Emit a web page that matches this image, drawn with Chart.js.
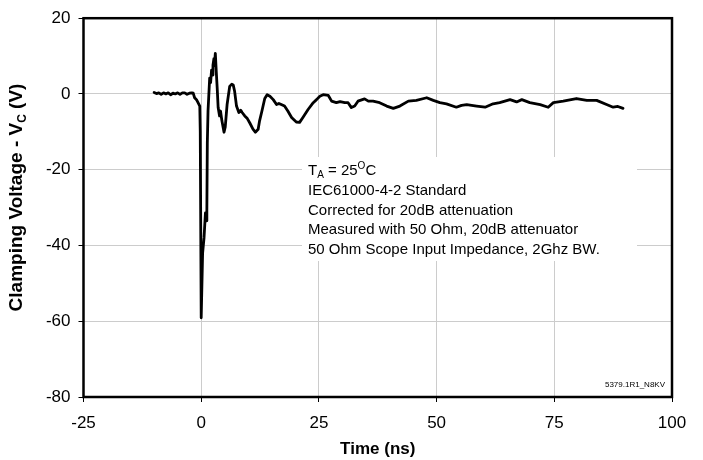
<!DOCTYPE html>
<html>
<head>
<meta charset="utf-8">
<script src="https://cdn.jsdelivr.net/npm/chart.js@4.4.0/dist/chart.umd.min.js"></script>
<style>
  html, body { margin: 0; padding: 0; background: #ffffff; }
  #wrap { width: 703px; height: 460px; position: relative; }
</style>
</head>
<body>
<div id="wrap"><canvas id="c" width="703" height="460"></canvas></div>
<script>
// ---- Data ----
const timeNs = [
  -10.0, -9.5, -9.0, -8.5, -8.0, -7.5, -7.0, -6.5, -6.0, -5.5, -5.0, -4.5, -4.0, -3.5, -3.0, -2.5, -2.0, -1.7, -1.4, -1.0,
  -0.67, -0.3, -0.2, 0.0, 0.3, 0.6, 0.9, 1.1, 1.2, 1.3, 1.45, 1.8, 2.0, 2.2, 2.4, 2.5, 2.7, 2.8, 3.0, 3.2,
  3.4, 3.6, 3.9, 4.1, 4.4, 4.85, 5.1, 5.5, 6.05, 6.5, 6.8, 7.1, 7.5, 8.0, 8.4, 8.7, 9.25, 9.8, 10.3, 11.0,
  11.5, 12.1, 12.4, 12.9, 13.5, 14.0, 14.6, 15.3, 16.0, 16.5, 17.0, 17.7, 18.4, 19.2, 20.2, 20.9, 21.6, 22.7, 23.8, 24.5,
  25.2, 25.9, 27.0, 27.7, 28.7, 29.5, 30.5, 31.2, 31.9, 32.6, 33.3, 34.7, 35.5, 36.5, 37.9, 39.4, 40.8, 42.2, 44.0, 45.7,
  47.9, 49.3, 50.7, 52.1, 54.2, 55.3, 56.4, 58.5, 60.3, 62.0, 63.4, 65.6, 67.0, 68.1, 69.8, 72.0, 73.7, 74.8, 76.9, 79.7,
  81.9, 84.0, 86.1, 87.5, 88.5, 89.6
];
const clampV = [
  0.4, 0.1, 0.3, -0.1, 0.3, 0.0, 0.3, -0.2, 0.2, 0.0, 0.3, -0.1, 0.3, 0.3, -0.1, 0.2, 0.3, 0.2, -1.0, -1.5,
  -2.3, -3.2, -10.0, -59.1, -42.0, -38.0, -31.4, -33.5, -31.0, -13.0, -4.5, 4.2, 3.0, 6.3, 5.0, 7.6, 9.3, 7.5, 10.7, 5.9,
  1.5, -3.6, -5.8, -4.5, -7.1, -10.1, -8.8, -2.8, 2.0, 2.6, 2.4, 0.7, -3.2, -4.9, -4.3, -4.9, -5.8, -6.5, -7.6, -9.3,
  -10.1, -9.3, -7.1, -4.5, -1.2, -0.2, -0.6, -1.5, -2.8, -2.5, -2.8, -3.2, -4.5, -6.2, -7.4, -7.5, -6.2, -4.1, -2.3, -1.5,
  -0.6, -0.2, -0.4, -1.9, -2.3, -2.0, -2.3, -2.3, -3.6, -3.2, -1.9, -1.3, -1.9, -1.9, -2.3, -3.2, -3.8, -3.2, -1.9, -1.7,
  -1.0, -1.7, -2.3, -2.6, -3.5, -3.0, -2.8, -3.2, -3.5, -2.6, -2.3, -1.5, -2.1, -1.5, -2.3, -2.8, -3.5, -2.3, -1.9, -1.2,
  -1.7, -1.7, -2.8, -3.5, -3.3, -3.8
];
const xTicks = [-25, 0, 25, 50, 75, 100];
const yTicks = [20, 0, -20, -40, -60, -80];
const xTitle = "Time (ns)";
const yTitleMain = "Clamping Voltage - V";
const yTitleSub = "C";
const yTitleEnd = " (V)";
const noteLines = [
  "IEC61000-4-2 Standard",
  "Corrected for 20dB attenuation",
  "Measured with 50 Ohm, 20dB attenuator",
  "50 Ohm Scope Input Impedance, 2Ghz BW."
];
const docId = "5379.1R1_N8KV";

const FONT = '"Liberation Sans", Arial, Helvetica, sans-serif';

const points = timeNs.map((t, i) => ({ x: t, y: clampV[i] }));

const decorPlugin = {
  id: 'decor',
  beforeDatasetsDraw(chart) {
    const ctx = chart.ctx;
    ctx.save();
    ctx.fillStyle = '#ffffff';
    ctx.fillRect(302, 157, 335, 104);
    ctx.restore();
  },
  afterDraw(chart) {
    const ctx = chart.ctx;
    const a = chart.chartArea;
    ctx.save();
    // frame
    ctx.strokeStyle = '#000000';
    ctx.lineWidth = 2.5;
    ctx.strokeRect(a.left, a.top, a.right - a.left, a.bottom - a.top);

    // annotation text
    ctx.fillStyle = '#000000';
    ctx.textAlign = 'left';
    ctx.textBaseline = 'alphabetic';
    let x = 308;
    const b1 = 175;
    ctx.font = '15px ' + FONT;
    ctx.fillText('T', x, b1); x += ctx.measureText('T').width;
    ctx.font = '10px ' + FONT;
    ctx.fillText('A', x, b1 + 3); x += ctx.measureText('A').width;
    ctx.font = '15px ' + FONT;
    ctx.fillText(' = 25', x, b1); x += ctx.measureText(' = 25').width;
    ctx.font = '10px ' + FONT;
    ctx.fillText('O', x, b1 - 6); x += ctx.measureText('O').width;
    ctx.font = '15px ' + FONT;
    ctx.fillText('C', x, b1);
    noteLines.forEach((s, i) => ctx.fillText(s, 308, 195 + i * 19.6));

    // document id
    ctx.font = '8px ' + FONT;
    ctx.textAlign = 'right';
    ctx.fillText(docId, 665, 387);

    // x title
    ctx.font = 'bold 17px ' + FONT;
    ctx.textAlign = 'center';
    ctx.fillText(xTitle, (a.left + a.right) / 2, 454);

    // y title (rotated, with subscript)
    ctx.translate(21.5, 197.5);
    ctx.rotate(-Math.PI / 2);
    ctx.textAlign = 'left';
    const fMain = 'bold 19px ' + FONT, fSub = 'bold 12px ' + FONT;
    ctx.font = fMain; const w1 = ctx.measureText(yTitleMain).width; const w3 = ctx.measureText(yTitleEnd).width;
    ctx.font = fSub; const w2 = ctx.measureText(yTitleSub).width;
    let px = -(w1 + w2 + w3) / 2;
    ctx.font = fMain; ctx.fillText(yTitleMain, px, 0); px += w1;
    ctx.font = fSub; ctx.fillText(yTitleSub, px, 4); px += w2;
    ctx.font = fMain; ctx.fillText(yTitleEnd, px, 0);
    ctx.restore();
  }
};

new Chart(document.getElementById('c'), {
  type: 'line',
  data: {
    datasets: [{
      data: points,
      borderColor: '#000000',
      borderWidth: 2.8,
      pointRadius: 0,
      tension: 0,
      borderJoinStyle: 'round',
      borderCapStyle: 'round',
      fill: false
    }]
  },
  options: {
    responsive: false,
    animation: false,
    devicePixelRatio: 1,
    layout: { padding: { left: 0, right: 31, top: 12.5, bottom: 0 } },
    plugins: { legend: { display: false }, tooltip: { enabled: false } },
    scales: {
      x: {
        type: 'linear',
        min: -25, max: 100,
        afterBuildTicks(scale) { scale.ticks = xTicks.map(v => ({ value: v })); },
        afterFit(scale) { scale.height = 63; },
        grid: { color: '#cccccc', lineWidth: 1, tickLength: 5, tickColor: '#000000', tickWidth: 1 },
        border: { display: false },
        ticks: { color: '#000000', padding: 11, font: { family: FONT, size: 17 }, maxRotation: 0, callback: v => String(v) }
      },
      y: {
        type: 'linear',
        min: -80, max: 20,
        afterBuildTicks(scale) { scale.ticks = yTicks.map(v => ({ value: v })); },
        afterFit(scale) { scale.width = 83.5; },
        grid: { color: '#cccccc', lineWidth: 1, tickLength: 5, tickColor: '#000000', tickWidth: 1 },
        border: { display: false },
        ticks: { color: '#000000', padding: 8, font: { family: FONT, size: 17 }, callback: v => String(v) }
      }
    }
  },
  plugins: [decorPlugin]
});
</script>
</body>
</html>
